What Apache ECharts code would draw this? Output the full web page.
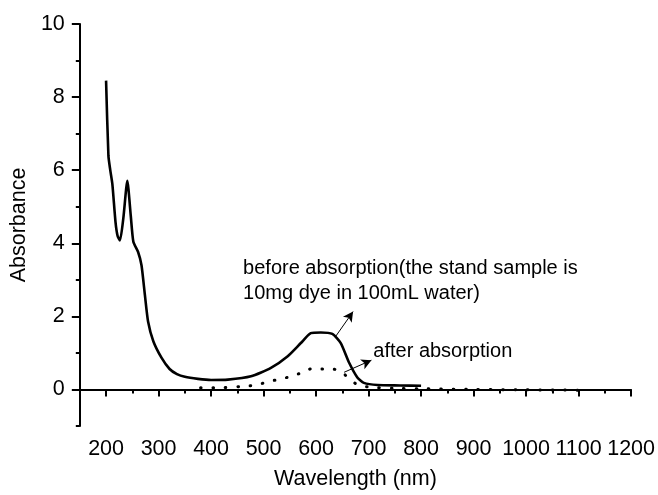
<!DOCTYPE html>
<html>
<head>
<meta charset="utf-8">
<script src="https://cdn.jsdelivr.net/npm/echarts@6/dist/echarts.min.js"></script>
<style>
html,body{margin:0;padding:0;background:#fff;}
#chart{width:658px;height:495px;}
</style>
</head>
<body>
<div id="chart"></div>
<script>
// ---- data ----
const beforeX = [200, 204.5, 208, 212, 218, 222, 226.5, 233, 240.5, 247, 252, 261, 267.5, 274, 280, 290, 305.5, 321, 335, 350, 375, 400, 432, 476, 514, 546, 571, 590, 609, 631, 647, 663, 679, 691, 717, 760, 800];
const beforeY = [8.45, 6.39, 6.0, 5.62, 4.58, 4.2, 4.08, 4.7, 5.71, 4.76, 4.04, 3.76, 3.40, 2.58, 1.86, 1.32, 0.87, 0.56, 0.42, 0.345, 0.29, 0.26, 0.27, 0.36, 0.59, 0.91, 1.27, 1.54, 1.56, 1.52, 1.27, 0.73, 0.32, 0.18, 0.12, 0.11, 0.10];
const afterX = [380, 422, 464, 486, 508, 527, 549, 571, 593, 612, 631, 652, 676, 698, 750, 800, 900, 1000, 1100];
const afterY = [0.05, 0.05, 0.09, 0.12, 0.21, 0.27, 0.345, 0.45, 0.57, 0.56, 0.56, 0.43, 0.155, 0.07, 0.03, 0.02, 0.0, -0.01, -0.02];
const xMajorTicks = [200, 300, 400, 500, 600, 700, 800, 900, 1000, 1100, 1200];
const xMinorTicks = [150, 250, 350, 450, 550, 650, 750, 850, 950, 1050, 1150];
const yMajorTicks = [0, 2, 4, 6, 8, 10];
const yMinorTicks = [-1, 1, 3, 5, 7, 9];
const xTitle = 'Wavelength (nm)';
const yTitle = 'Absorbance';
const beforeLabel = 'before absorption(the stand sample is\n10mg dye in 100mL water)';
const afterLabel = 'after absorption';
// annotation anchors (data coordinates)
const beforeLabelAt = [461, 2.97];
const afterLabelAt = [709, 1.03];
const beforeArrow = [[637.7, 1.46], [670.5, 2.13]];
const afterArrow = [[653.4, 0.47], [705.4, 0.80]];

const zip = (xs, ys) => xs.map((x, i) => [x, ys[i]]);
const FONT = '"Liberation Sans", Arial, Helvetica, sans-serif';
const plain = v => String(v);

const chart = echarts.init(document.getElementById('chart'), null, {renderer: 'canvas'});
const axisLine = {show: true, lineStyle: {color: '#000', width: 2}};
chart.setOption({
  animation: false,
  backgroundColor: '#fff',
  grid: {left: 78, right: 26.5, top: 24, bottom: 66.5, containLabel: false},
  xAxis: [{
    type: 'value', min: 150, max: 1200, position: 'bottom',
    axisLine: axisLine,
    axisTick: {show: true, inside: false, length: 7, customValues: xMajorTicks, lineStyle: {color: '#000', width: 2}},
    axisLabel: {show: true, customValues: xMajorTicks, formatter: plain, margin: 12, color: '#000', fontSize: 21.5, fontFamily: FONT},
    splitLine: {show: false},
    name: xTitle, nameLocation: 'middle', nameGap: 42,
    nameTextStyle: {color: '#000', fontSize: 21.5, fontFamily: FONT}
  }, {
    type: 'value', min: 150, max: 1200, position: 'bottom',
    axisLine: {show: false},
    axisTick: {show: true, inside: false, length: 4, customValues: xMinorTicks, lineStyle: {color: '#000', width: 2}},
    axisLabel: {show: false},
    splitLine: {show: false}
  }],
  yAxis: [{
    type: 'value', min: -1, max: 10, position: 'left',
    axisLine: axisLine,
    axisTick: {show: true, inside: false, length: 8, customValues: yMajorTicks, lineStyle: {color: '#000', width: 2}},
    axisLabel: {show: true, customValues: yMajorTicks, formatter: plain, margin: 15, color: '#000', fontSize: 21.5, fontFamily: FONT},
    splitLine: {show: false},
    name: yTitle, nameLocation: 'middle', nameGap: 41, nameRotate: 90,
    nameTextStyle: {color: '#000', fontSize: 21.5, fontFamily: FONT}
  }, {
    type: 'value', min: -1, max: 10, position: 'left',
    axisLine: {show: false},
    axisTick: {show: true, inside: false, length: 4, customValues: yMinorTicks, lineStyle: {color: '#000', width: 2}},
    axisLabel: {show: false},
    splitLine: {show: false}
  }],
  series: [{
    name: 'before', type: 'line', xAxisIndex: 0, yAxisIndex: 0,
    data: zip(beforeX, beforeY),
    showSymbol: false, symbol: 'none', smooth: 0.2,
    lineStyle: {color: '#000', width: 2.6},
    markLine: {
      silent: true, symbol: ['none', 'arrow'], symbolSize: [8, 10],
      label: {show: false},
      lineStyle: {color: '#000', width: 1, type: 'solid'},
      data: [
        [{coord: beforeArrow[0]}, {coord: beforeArrow[1]}],
        [{coord: afterArrow[0]}, {coord: afterArrow[1]}]
      ]
    },
    markPoint: {
      silent: true, symbol: 'circle', symbolSize: 0,
      itemStyle: {color: 'rgba(0,0,0,0)'},
      label: {show: true, position: 'right', distance: 0, color: '#000', fontSize: 20, lineHeight: 25, fontFamily: FONT, align: 'left', verticalAlign: 'middle'},
      data: [
        {coord: beforeLabelAt, value: beforeLabel, label: {formatter: beforeLabel}},
        {coord: afterLabelAt, value: afterLabel, label: {formatter: afterLabel}}
      ]
    }
  }, {
    name: 'after', type: 'line', xAxisIndex: 0, yAxisIndex: 0,
    data: zip(afterX, afterY),
    showSymbol: false, symbol: 'none', smooth: 0.3,
    lineStyle: {color: '#000', width: 3, type: [0.6, 11.8], cap: 'round'}
  }]
});
</script>
</body>
</html>
